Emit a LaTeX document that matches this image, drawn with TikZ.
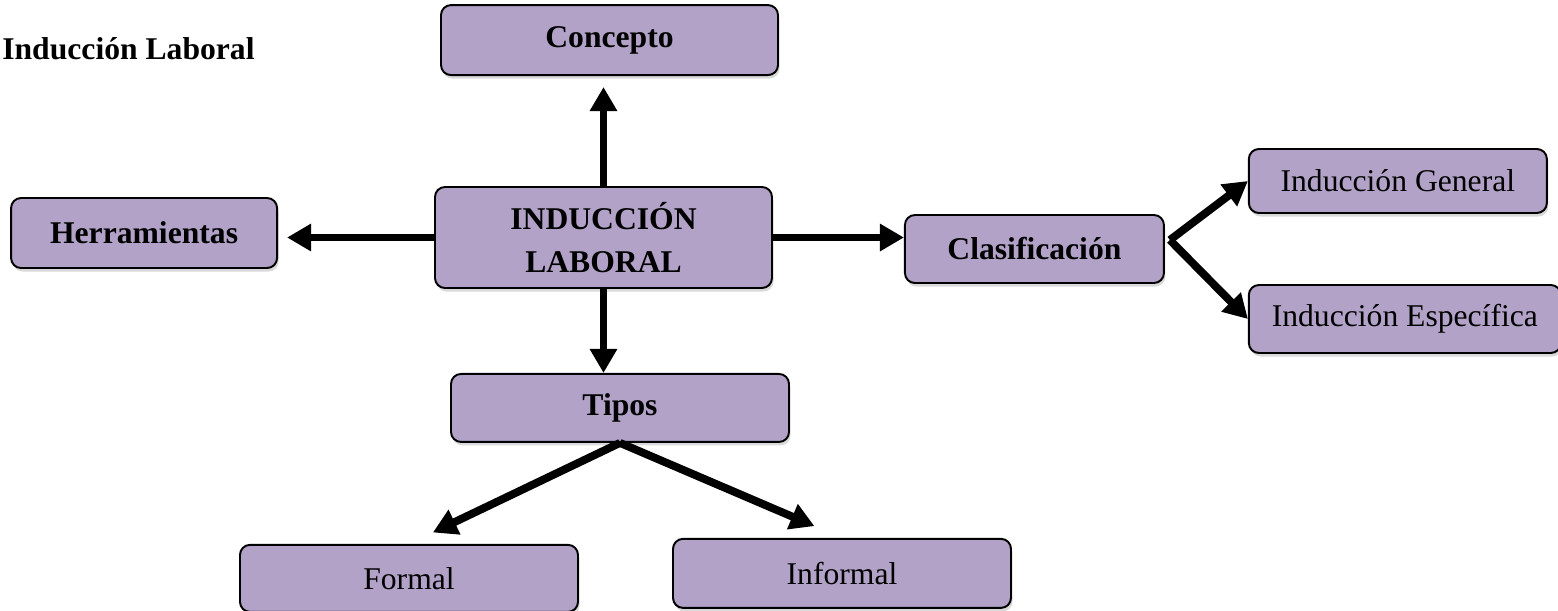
\documentclass[tikz,border=0pt]{standalone}
\usepackage{fontspec}
\setmainfont{Liberation Serif}
\usetikzlibrary{positioning,arrows.meta,shadows}
\definecolor{lila}{RGB}{178,162,199}

\begin{document}
\begin{tikzpicture}[>={Triangle[length=0.48cm,width=0.52cm]},
    box node/.style={draw,line width=1.1pt,rounded corners=0.2cm,fill=lila,
      drop shadow={shadow xshift=0.03cm,shadow yshift=-0.07cm,opacity=0.3},
      font=\fontsize{18}{24}\selectfont,align=center,inner sep=2pt},
    bold node/.style={box node,font=\fontsize{18}{24}\selectfont\bfseries},
    link/.style={->,line width=4.5pt}]
  \useasboundingbox (0,0) rectangle (31.16,-12.2);

  \node[font=\fontsize{18}{24}\selectfont\bfseries,anchor=west,inner sep=0pt] (titulo) at (0.04,-0.98) {Inducción Laboral};

  \node[bold node,minimum width=6.74cm,minimum height=2.02cm] (main) at (12.07,-4.75) {INDUCCIÓN\\LABORAL};
  \node[bold node,minimum width=6.74cm,minimum height=1.4cm] (concepto) [above=2.2cm of main,xshift=0.12cm] {Concepto};
  \node[bold node,minimum width=5.32cm,minimum height=1.4cm] (herr) [left=3.12cm of main,yshift=0.09cm] {Herramientas};
  \node[bold node,minimum width=6.76cm,minimum height=1.36cm] (tipos) [below=1.68cm of main,xshift=0.33cm] {Tipos};
  \node[bold node,minimum width=5.18cm,minimum height=1.36cm] (clas) [right=2.62cm of main,yshift=-0.23cm] {Clasificación};
  \node[box node,minimum width=5.96cm,minimum height=1.28cm] (general) [right=1.66cm of clas,yshift=1.36cm] {Inducción General};
  \node[box node,minimum width=6.24cm,minimum height=1.36cm] (especifica) [right=1.66cm of clas,yshift=-1.4cm] {Inducción Específica};
  \node[box node,minimum width=6.76cm,minimum height=1.34cm] (formal) [below=2.02cm of tipos,xshift=-4.22cm] {Formal};
  \node[box node,minimum width=6.76cm,minimum height=1.38cm] (informal) [below=1.9cm of tipos,xshift=4.44cm] {Informal};

  \coordinate (fork) at ([xshift=0.1cm,yshift=0.18cm]clas.east);

  \path[link]
    (main.north) edge[shorten >=0.22cm] (main.north |- concepto.south)
    (main.west) edge[shorten >=0.18cm] (main.west -| herr.east)
    (main.east) edge (main.east -| clas.west)
    (main.south) edge (main.south |- tipos.north)
    (fork) edge (general.west)
    (fork) edge (especifica.west)
    (tipos.south) edge[shorten >=0.53cm] (formal.north)
    (tipos.south) edge[shorten >=0.6cm] (informal.north)
    ;
\end{tikzpicture}
\end{document}
